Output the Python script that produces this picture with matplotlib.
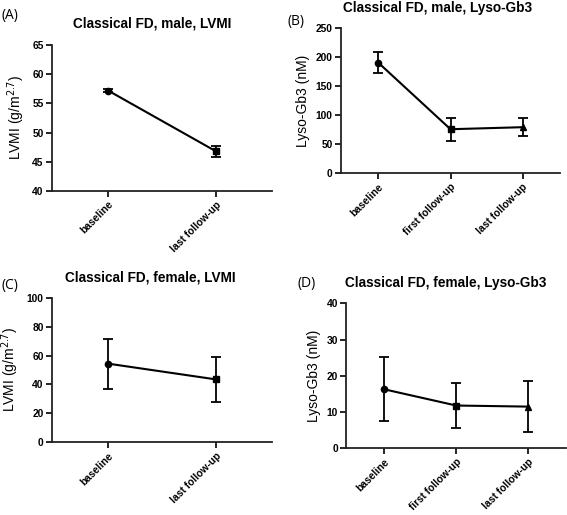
import matplotlib
matplotlib.use("Agg")
import matplotlib.pyplot as plt

# ---- data ----
cats2 = ["baseline", "last follow-up"]
cats3 = ["baseline", "first follow-up", "last follow-up"]

a_mean = [57.2, 46.8]
a_err = [0.3, 0.9]

b_mean = [190.5, 76.0, 79.5]
b_err = [18.0, 19.5, 15.5]

c_mean = [54.4, 43.5]
c_err = [17.2, 15.7]

d_mean = [16.3, 11.8, 11.5]
d_err = [8.9, 6.1, 7.0]

markers = ["o", "s", "^"]

titles = ["Classical FD, male, LVMI", "Classical FD, male, Lyso-Gb3",
          "Classical FD, female, LVMI", "Classical FD, female, Lyso-Gb3"]
panel_labels = ["(A)", "(B)", "(C)", "(D)"]

W, H = 567, 515
fig = plt.figure(figsize=(W / 100, H / 100), dpi=100)

def box(l, t, r, b):
    return [l / W, 1 - b / H, (r - l) / W, (b - t) / H]

tick_font = dict(family="Liberation Sans", size=7.4, weight="bold")

def panel(rect, cats, mean, err, ylim, yticks, ylabel, xlim):
    ax = fig.add_axes(rect)
    x = list(range(len(cats)))
    ax.plot(x, mean, color="black", lw=1.5, zorder=2)
    for i in x:
        ax.errorbar(x[i], mean[i], yerr=err[i], fmt=markers[i], color="black",
                    ms=4.5, capsize=3.5, elinewidth=1.3, capthick=1.3, zorder=3)
    ax.set_xlim(*xlim)
    ax.set_ylim(*ylim)
    ax.set_yticks(yticks)
    ax.set_xticks(x)
    ax.set_xticklabels(cats, rotation=45, ha="right", va="top",
                       rotation_mode="anchor", **tick_font)
    for lab in ax.get_yticklabels():
        lab.set_fontfamily("Liberation Sans")
        lab.set_fontsize(7.4)
        lab.set_fontweight("bold")
    ax.spines["top"].set_visible(False)
    ax.spines["right"].set_visible(False)
    for s in ("left", "bottom"):
        ax.spines[s].set_linewidth(1.3)
        ax.spines[s].set_color("#222222")
    ax.tick_params(direction="out", length=4, width=1.2, pad=2)
    ax.set_ylabel(ylabel, family="Liberation Sans", fontsize=10, labelpad=4)
    return ax

axA = panel(box(52, 45, 272, 191), cats2, a_mean, a_err, (40, 65),
            [40, 45, 50, 55, 60, 65], r"LVMI (g/m$^{2.7}$)", (-0.52, 1.52))
axB = panel(box(341, 28.3, 560, 173.3), cats3, b_mean, b_err, (0, 250),
            [0, 50, 100, 150, 200, 250], "Lyso-Gb3 (nM)", (-0.52, 2.52))
axC = panel(box(52, 297.7, 272, 442.3), cats2, c_mean, c_err, (0, 100),
            [0, 20, 40, 60, 80, 100], r"LVMI (g/m$^{2.7}$)", (-0.52, 1.52))
axD = panel(box(346.3, 303.3, 566, 448.3), cats3, d_mean, d_err, (0, 40),
            [0, 10, 20, 30, 40], "Lyso-Gb3 (nM)", (-0.52, 2.52))

title_kw = dict(family="Liberation Sans", fontsize=9.8, weight="bold",
                ha="center", va="center")
fig.text(152 / W, 1 - 24 / H, titles[0], **title_kw)
fig.text(438 / W, 1 - 8 / H, titles[1], **title_kw)
fig.text(150 / W, 1 - 277 / H, titles[2], **title_kw)
fig.text(446 / W, 1 - 283 / H, titles[3], **title_kw)

lab_kw = dict(family="Open Sans", fontsize=10, ha="left", va="center")
fig.text(1 / W, 1 - 15 / H, panel_labels[0], **lab_kw)
fig.text(288 / W, 1 - 22 / H, panel_labels[1], **lab_kw)
fig.text(1 / W, 1 - 285 / H, panel_labels[2], **lab_kw)
fig.text(298 / W, 1 - 283 / H, panel_labels[3], **lab_kw)

fig.savefig("out.png", dpi=100)
